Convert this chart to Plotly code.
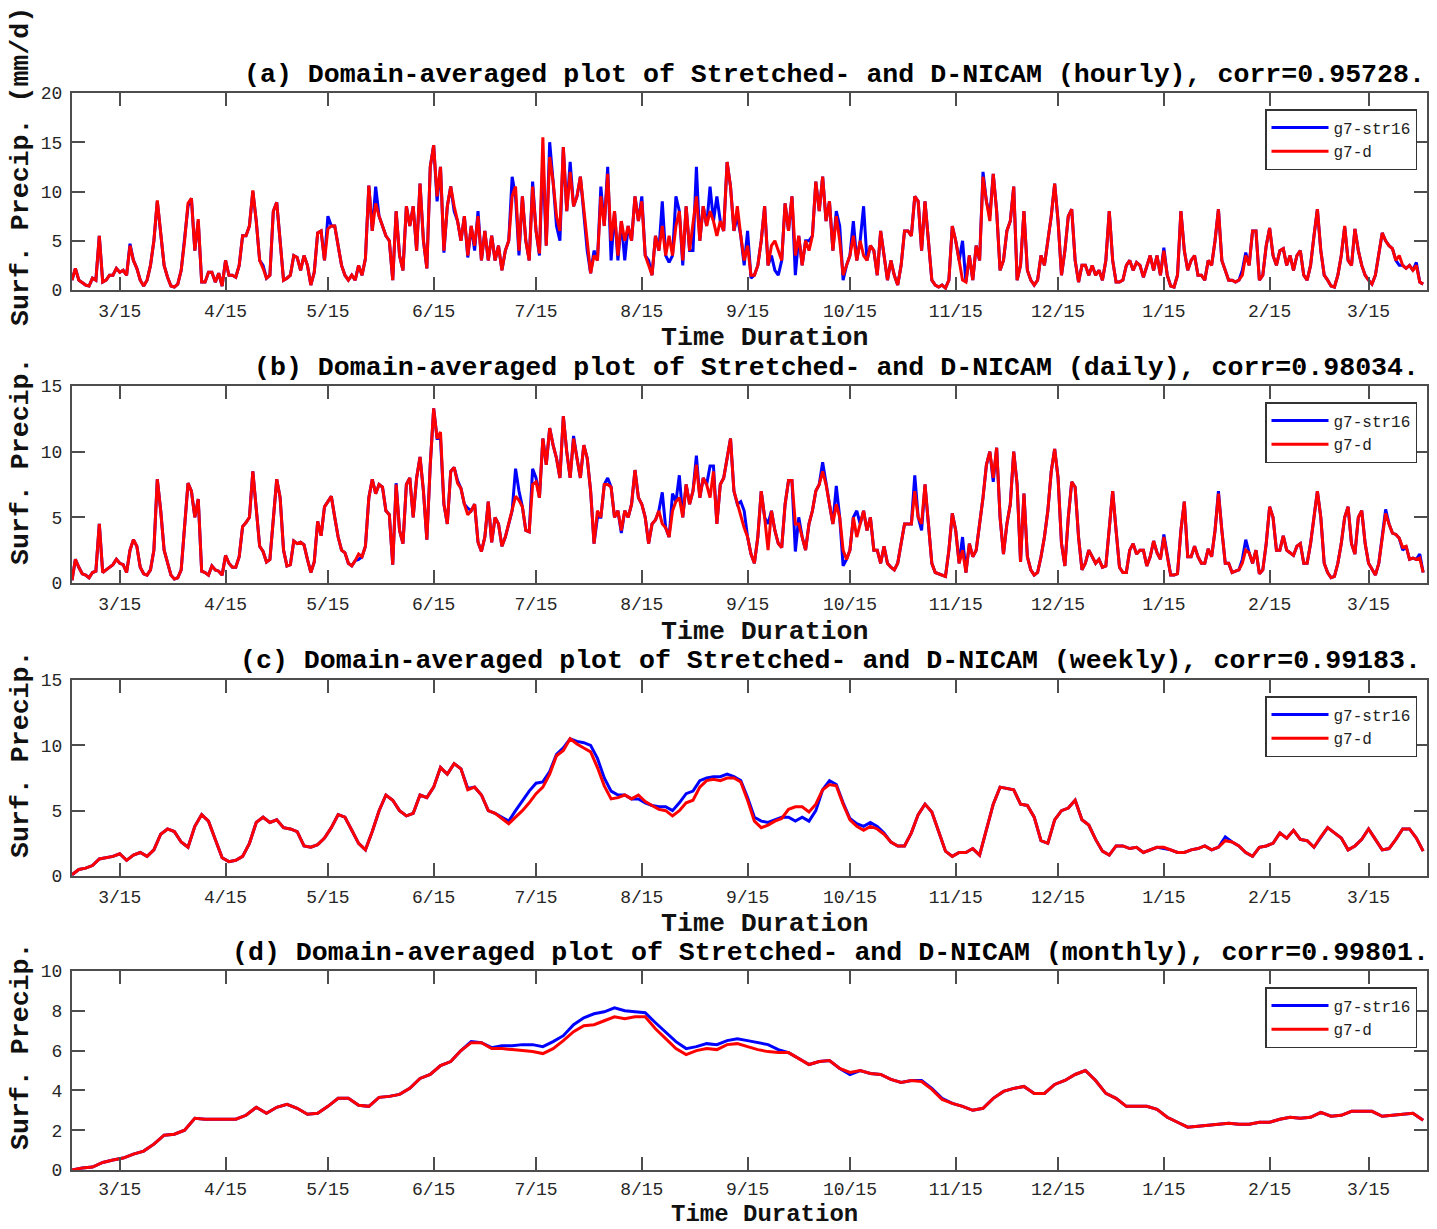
import numpy as np
import pandas as pd
import plotly.graph_objects as go

# ---------------- data ----------------
START = "2015-03-01"
X_END = "2016-04-01 03:00"

tick_dates = ["2015-03-15", "2015-04-15", "2015-05-15", "2015-06-15", "2015-07-15",
              "2015-08-15", "2015-09-15", "2015-10-15", "2015-11-15", "2015-12-15",
              "2016-01-15", "2016-02-15", "2016-03-15"]
tick_labels = ["3/15", "4/15", "5/15", "6/15", "7/15", "8/15", "9/15", "10/15",
               "11/15", "12/15", "1/15", "2/15", "3/15"]

series_names = ["g7-str16", "g7-d"]

panel_titles = [
    "(a) Domain-averaged plot of Stretched- and D-NICAM (hourly), corr=0.95728.",
    "(b) Domain-averaged plot of Stretched- and D-NICAM (daily), corr=0.98034.",
    "(c) Domain-averaged plot of Stretched- and D-NICAM (weekly), corr=0.99183.",
    "(d) Domain-averaged plot of Stretched- and D-NICAM (monthly), corr=0.99801.",
]
y_titles = ["Surf. Precip. (mm/d)", "Surf. Precip.", "Surf. Precip.", "Surf. Precip."]
x_title = "Time Duration"

# (a) hourly series, sampled once per day (step 1 day)
hourly_d = [
    1.0, 2.2, 1.0, 0.7, 0.5, 0.4, 1.2, 1.0, 5.5, 0.8, 1.0, 1.5, 1.5, 2.2, 1.8, 2.0, 1.5, 4.5, 3.0, 2.2, 1.0, 0.4, 1.0, 2.5, 5.0, 9.1, 6.0, 2.5, 1.3, 0.4, 0.3,
    0.6, 2.0, 5.0, 8.8, 9.3, 4.0, 7.2, 0.8, 0.8, 1.8, 1.8, 0.8, 1.7, 0.4, 3.0, 1.5, 1.5, 1.3, 2.5, 5.5, 5.5, 6.5, 10.1, 7.0, 3.0, 2.2, 1.2, 1.5, 8.0, 8.9,
    5.0, 1.0, 1.2, 1.5, 3.5, 3.3, 2.0, 3.5, 2.5, 0.5, 1.8, 5.8, 6.0, 3.0, 6.2, 6.5, 6.5, 4.5, 2.5, 1.5, 1.0, 1.5, 1.0, 2.5, 1.5, 3.2, 10.6, 6.0, 8.8, 7.5, 6.5,
    5.5, 5.0, 1.0, 8.0, 3.5, 2.0, 8.5, 6.5, 8.5, 4.0, 10.8, 5.0, 2.2, 12.5, 14.7, 9.5, 12.5, 4.0, 8.5, 10.5, 8.5, 7.0, 5.0, 7.5, 3.5, 6.5, 4.5, 7.5, 3.0, 6.0,
    3.0, 5.5, 3.0, 4.5, 2.0, 4.0, 5.0, 9.5, 10.5, 4.0, 9.5, 5.0, 3.0, 10.5, 6.0, 3.7, 15.5, 4.5, 13.5, 11.0, 7.5, 6.0, 14.5, 8.0, 12.0, 8.5, 9.5, 11.5, 8.0, 5.0, 1.7,
    3.5, 3.0, 9.5, 6.5, 11.8, 5.0, 8.0, 3.5, 7.0, 5.0, 6.5, 5.0, 9.5, 7.0, 9.0, 3.5, 2.5, 1.5, 5.5, 4.0, 6.5, 3.5, 5.5, 3.5, 6.5, 8.0, 3.0, 8.5, 4.0, 6.5, 9.5,
    5.0, 8.5, 6.5, 8.0, 7.0, 5.5, 7.0, 6.0, 13.0, 10.5, 6.0, 8.5, 5.5, 3.0, 4.5, 1.5, 1.5, 2.5, 5.0, 8.5, 2.5, 4.5, 5.0, 4.0, 3.0, 8.8, 6.0, 9.5, 3.5, 5.5,
    2.5, 5.0, 4.0, 5.5, 11.0, 8.0, 11.5, 7.0, 9.0, 4.0, 7.5, 5.0, 1.5, 2.5, 3.5, 5.5, 3.0, 5.0, 3.5, 3.0, 4.5, 4.0, 1.5, 6.0, 3.5, 1.0, 3.0, 1.5, 0.5, 2.5, 6.0,
    6.0, 5.5, 9.5, 9.0, 4.0, 9.0, 5.0, 1.0, 0.5, 0.3, 0.5, 0.2, 1.0, 6.5, 5.0, 3.0, 1.0, 0.8, 3.5, 1.0, 4.5, 3.0, 11.5, 9.0, 7.0, 11.8, 8.0, 2.0, 3.0, 6.0,
    7.0, 10.5, 1.0, 2.5, 8.0, 2.0, 1.0, 0.5, 1.0, 3.5, 2.5, 5.0, 7.5, 10.8, 7.0, 1.5, 4.0, 7.5, 8.2, 3.0, 0.8, 2.5, 2.5, 1.5, 2.5, 1.5, 2.0, 1.0, 3.0, 8.0, 3.0,
    0.8, 0.8, 1.0, 2.5, 3.0, 2.0, 2.8, 2.5, 1.3, 2.5, 3.5, 2.0, 3.5, 1.5, 4.0, 1.5, 0.4, 0.3, 1.5, 8.0, 4.0, 2.0, 3.0, 3.5, 1.5, 1.5, 1.0, 3.0, 2.5, 5.0, 8.2,
    3.0, 2.0, 1.0, 1.0, 0.8, 1.0, 1.5, 3.5, 2.5, 6.0, 6.0, 1.0, 1.5, 4.5, 6.3, 3.5, 2.5, 4.0, 4.2, 2.5, 3.5, 2.0, 3.5, 4.0, 1.5, 1.0, 2.5, 5.5, 8.2,
    4.0, 1.5, 1.0, 0.4, 0.3, 1.5, 3.5, 6.5, 3.0, 2.5, 6.2, 4.0, 2.5, 1.5, 1.0, 0.6, 1.5, 3.5, 5.8, 5.0, 4.5, 4.2, 3.0, 3.5, 2.5, 2.2, 2.5, 2.0, 2.5, 0.8, 0.6,
]
hourly_str16 = [
    1.0, 2.2, 1.0, 0.7, 0.5, 0.4, 1.2, 1.0, 5.5, 0.8, 1.0, 1.5, 1.5, 2.2, 1.8, 2.0, 1.5, 4.7, 3.0, 2.2, 1.0, 0.4, 1.0, 2.5, 5.0, 9.0, 6.0, 2.5, 1.3, 0.4, 0.3,
    0.6, 2.0, 5.0, 8.5, 9.3, 4.0, 7.0, 0.8, 0.8, 1.8, 1.8, 0.8, 1.7, 0.4, 3.0, 1.5, 1.5, 1.3, 2.5, 5.5, 5.5, 6.5, 10.0, 7.0, 3.0, 2.5, 1.2, 1.5, 8.0, 8.9,
    5.0, 1.0, 1.2, 1.5, 3.5, 3.3, 2.0, 3.5, 2.5, 0.5, 1.8, 5.8, 6.0, 3.0, 7.5, 6.5, 6.5, 4.5, 2.5, 1.5, 1.0, 1.5, 1.0, 2.5, 1.5, 3.2, 10.6, 6.0, 10.5, 7.5, 6.5,
    5.5, 5.0, 1.0, 8.0, 3.5, 2.0, 8.5, 6.5, 8.5, 4.0, 10.8, 5.0, 2.2, 12.5, 14.7, 9.0, 12.5, 3.8, 8.5, 10.5, 8.0, 7.0, 5.0, 7.5, 3.3, 6.5, 4.0, 8.0, 3.0, 6.0,
    3.0, 5.5, 3.0, 4.5, 2.0, 4.0, 5.0, 11.5, 9.5, 3.5, 9.5, 5.0, 3.0, 11.0, 6.0, 3.5, 13.5, 4.5, 15.0, 11.0, 6.5, 5.0, 14.5, 8.0, 13.0, 8.5, 9.5, 11.5, 8.0, 4.0, 1.7,
    4.0, 3.0, 10.5, 6.5, 12.5, 3.0, 8.0, 3.0, 7.0, 3.0, 6.5, 5.0, 9.5, 7.0, 9.5, 3.5, 3.0, 1.5, 5.5, 4.0, 9.0, 3.5, 2.8, 3.5, 9.5, 8.0, 2.5, 8.5, 4.0, 4.0, 12.5,
    5.0, 8.5, 6.5, 10.5, 7.0, 9.5, 7.0, 6.0, 13.0, 10.5, 6.0, 7.5, 5.5, 2.5, 6.0, 1.2, 1.5, 2.5, 5.0, 8.5, 2.5, 3.5, 2.0, 1.5, 3.0, 8.8, 6.0, 9.5, 1.5, 5.5,
    2.5, 5.0, 5.0, 5.5, 11.0, 8.0, 11.5, 7.0, 9.0, 4.0, 8.0, 6.5, 1.0, 2.5, 3.5, 7.0, 3.0, 5.0, 8.5, 3.0, 4.5, 4.0, 1.5, 6.0, 3.5, 1.0, 3.0, 1.5, 0.5, 2.5, 6.0,
    6.0, 5.5, 9.5, 9.0, 4.0, 9.0, 5.0, 1.0, 0.5, 0.3, 0.5, 0.2, 1.0, 6.5, 5.0, 3.0, 5.0, 0.8, 3.5, 1.0, 4.5, 3.0, 12.0, 9.0, 7.5, 11.8, 8.0, 2.0, 3.0, 6.0,
    7.0, 10.5, 1.0, 2.5, 8.0, 2.0, 1.0, 0.5, 1.0, 3.5, 2.5, 5.0, 7.5, 10.8, 7.0, 1.5, 4.0, 7.5, 8.2, 3.0, 0.8, 2.5, 2.5, 1.5, 2.5, 1.5, 2.0, 1.0, 3.0, 8.0, 3.0,
    0.8, 0.8, 1.0, 2.5, 3.0, 2.0, 2.8, 2.5, 1.3, 2.5, 3.5, 2.0, 3.5, 1.5, 4.3, 1.5, 0.4, 0.3, 1.5, 8.0, 4.0, 2.0, 3.0, 3.5, 1.5, 1.5, 1.0, 3.0, 2.5, 5.0, 8.2,
    3.0, 2.0, 1.0, 1.0, 0.8, 1.0, 2.0, 3.8, 2.5, 6.0, 6.0, 1.0, 1.5, 4.5, 6.3, 3.5, 2.5, 4.0, 4.2, 2.5, 3.5, 2.0, 3.5, 4.0, 1.5, 1.0, 2.5, 5.5, 8.2,
    4.0, 1.5, 1.0, 0.4, 0.3, 1.5, 3.5, 6.4, 3.0, 2.5, 6.2, 4.0, 2.5, 1.5, 1.0, 0.6, 1.5, 3.5, 5.8, 5.0, 4.5, 4.2, 3.0, 2.5, 2.5, 2.2, 2.5, 2.0, 2.8, 0.8, 0.6,
]

# (b) daily means (step 1 day)
daily_d = [
    0.2, 1.8, 1.2, 0.7, 0.6, 0.4, 0.8, 0.9, 4.5, 0.8, 1.0, 1.2, 1.4, 1.8, 1.5, 1.4, 0.8, 2.5, 3.3, 2.8, 1.2, 0.7, 0.6, 1.0, 2.5, 7.9, 5.5, 2.5, 1.5, 0.6, 0.3,
    0.4, 1.0, 4.0, 7.6, 7.0, 5.0, 6.4, 0.9, 0.8, 0.6, 1.3, 1.0, 0.9, 0.6, 2.1, 1.5, 1.2, 1.2, 2.0, 4.3, 4.6, 5.0, 8.5, 5.5, 2.8, 2.4, 1.6, 1.8, 5.0, 7.9,
    6.5, 2.5, 1.3, 1.4, 3.2, 3.0, 3.1, 2.9, 1.8, 0.8, 1.6, 4.7, 3.6, 5.8, 6.2, 6.6, 5.0, 3.5, 2.5, 2.3, 1.5, 1.3, 1.7, 2.2, 2.0, 2.8, 6.5, 7.9, 6.8, 7.5, 7.3,
    5.5, 5.2, 1.4, 7.5, 4.0, 3.0, 7.5, 8.0, 5.0, 8.0, 9.6, 7.0, 3.3, 9.0, 13.3, 11.0, 11.5, 6.0, 4.5, 8.5, 8.8, 7.6, 7.2, 6.0, 5.2, 5.5, 6.0, 3.1, 2.4, 3.5,
    6.2, 3.1, 5.0, 4.5, 2.8, 3.5, 4.5, 5.5, 6.6, 6.3, 5.8, 4.0, 3.9, 7.5, 7.7, 6.5, 11.0, 9.0, 11.8, 10.5, 9.5, 8.0, 12.7, 10.0, 8.0, 11.0, 9.5, 8.0, 10.5, 9.5, 7.0,
    3.0, 5.5, 5.0, 7.5, 7.5, 7.3, 5.0, 5.5, 4.0, 5.5, 5.0, 6.0, 8.6, 6.5, 6.0, 5.0, 3.0, 4.5, 4.8, 5.5, 4.5, 4.2, 3.5, 5.5, 6.2, 6.5, 5.0, 7.5, 6.0, 7.0, 9.0,
    6.5, 8.0, 7.5, 6.5, 8.5, 4.5, 7.5, 8.0, 9.5, 11.0, 7.0, 6.0, 5.0, 4.2, 3.5, 2.2, 1.5, 3.5, 7.0, 5.0, 2.5, 5.5, 4.0, 3.0, 2.7, 6.0, 7.8, 7.8, 4.5, 4.5,
    3.5, 2.5, 4.5, 5.5, 7.0, 7.5, 8.5, 7.5, 6.0, 4.5, 6.0, 5.0, 2.5, 1.8, 2.5, 5.0, 3.5, 4.5, 5.5, 4.0, 5.0, 2.5, 2.5, 1.5, 2.8, 1.5, 1.2, 1.0, 1.5, 3.0, 4.5,
    4.5, 4.5, 7.0, 5.0, 4.5, 7.5, 4.5, 1.5, 0.8, 0.7, 0.6, 0.5, 2.5, 5.3, 4.0, 1.5, 2.5, 0.8, 3.0, 2.0, 2.5, 4.5, 6.5, 9.0, 10.0, 8.0, 10.3, 5.0, 2.2, 4.5,
    6.0, 10.0, 7.5, 1.6, 6.8, 2.0, 1.0, 0.6, 0.8, 2.0, 3.5, 5.5, 8.5, 10.2, 8.0, 3.0, 1.3, 5.0, 7.7, 7.3, 3.5, 1.0, 1.5, 2.5, 2.0, 1.5, 1.8, 1.2, 1.3, 4.0, 7.0,
    4.0, 1.2, 0.8, 0.8, 2.5, 3.0, 2.2, 2.5, 2.5, 1.3, 2.0, 3.2, 2.3, 1.8, 3.5, 2.0, 0.6, 0.6, 0.7, 4.0, 6.2, 2.0, 2.0, 2.8, 2.0, 1.5, 1.5, 2.6, 2.0, 4.0, 6.8,
    4.0, 1.5, 1.5, 0.8, 0.9, 1.0, 1.5, 2.5, 2.3, 1.5, 2.5, 0.7, 1.0, 3.0, 5.8, 5.0, 2.5, 2.5, 3.6, 2.5, 2.3, 2.1, 2.8, 3.0, 1.5, 1.5, 3.0, 5.0, 7.0,
    5.0, 1.5, 0.8, 0.4, 0.5, 1.5, 3.0, 5.0, 5.8, 3.0, 2.2, 5.0, 5.5, 3.0, 1.5, 1.0, 0.6, 1.5, 3.5, 5.3, 4.5, 3.8, 3.7, 3.4, 2.7, 2.8, 1.8, 1.9, 1.8, 1.9, 0.8,
]
daily_str16 = [
    0.2, 1.8, 1.2, 0.7, 0.6, 0.4, 0.8, 0.9, 4.5, 0.8, 1.0, 1.2, 1.4, 1.8, 1.5, 1.4, 0.8, 2.5, 3.3, 2.8, 1.2, 0.7, 0.6, 1.0, 2.5, 7.9, 5.5, 2.5, 1.5, 0.6, 0.3,
    0.4, 1.0, 4.0, 7.6, 7.0, 5.0, 6.4, 0.9, 0.8, 0.6, 1.3, 1.0, 0.9, 0.6, 2.1, 1.5, 1.2, 1.2, 2.0, 4.3, 4.6, 5.0, 8.5, 5.5, 2.8, 2.4, 1.6, 1.8, 5.0, 7.9,
    6.5, 2.5, 1.3, 1.4, 3.2, 3.0, 3.1, 2.9, 1.8, 0.8, 1.6, 4.7, 3.6, 5.8, 6.2, 6.6, 5.0, 3.5, 2.5, 2.3, 1.5, 1.3, 1.7, 1.8, 2.0, 2.8, 6.5, 7.9, 6.8, 7.5, 7.3,
    5.5, 5.2, 1.4, 7.6, 4.0, 3.0, 7.5, 8.0, 5.0, 8.0, 9.6, 7.0, 3.3, 9.0, 13.3, 11.0, 11.0, 6.0, 4.5, 8.5, 8.8, 7.8, 7.2, 6.0, 5.7, 5.5, 6.0, 3.1, 2.4, 3.5,
    6.2, 3.1, 5.0, 4.5, 2.8, 3.5, 4.5, 5.5, 8.7, 7.0, 5.8, 4.0, 3.9, 8.7, 8.0, 6.5, 11.0, 9.0, 11.8, 10.5, 9.5, 8.0, 12.7, 10.0, 8.0, 11.2, 9.5, 8.0, 10.5, 9.5, 7.0,
    3.0, 5.0, 5.0, 7.5, 8.0, 7.3, 5.0, 5.5, 3.8, 5.5, 5.0, 6.0, 8.6, 6.5, 6.0, 5.0, 3.0, 4.5, 4.8, 5.5, 6.9, 4.2, 3.5, 6.8, 6.2, 8.2, 5.0, 7.5, 6.0, 7.0, 9.7,
    6.5, 8.0, 7.5, 8.9, 8.9, 4.5, 7.5, 8.0, 9.5, 11.0, 7.0, 6.0, 6.2, 5.5, 3.5, 2.2, 1.5, 3.5, 7.0, 5.0, 4.5, 5.5, 4.0, 3.0, 2.7, 6.0, 7.8, 7.8, 2.4, 5.0,
    3.5, 2.5, 4.5, 5.5, 7.0, 7.5, 9.2, 7.5, 6.0, 4.5, 7.4, 5.0, 1.3, 1.8, 2.5, 5.0, 5.5, 4.5, 5.5, 4.0, 5.0, 2.5, 2.5, 1.5, 2.8, 1.5, 1.2, 1.0, 1.5, 3.0, 4.5,
    4.5, 4.5, 8.2, 5.0, 4.0, 7.5, 4.5, 1.5, 0.8, 0.7, 0.6, 0.5, 2.5, 5.3, 4.0, 1.5, 3.5, 0.8, 3.0, 2.0, 2.5, 4.5, 6.5, 9.0, 10.0, 7.7, 10.3, 5.0, 2.2, 4.5,
    6.0, 10.0, 7.5, 1.6, 6.8, 2.0, 1.0, 0.6, 0.8, 2.0, 3.5, 5.5, 8.5, 10.2, 8.0, 3.0, 1.3, 5.0, 7.7, 7.3, 3.5, 1.0, 1.5, 2.5, 2.0, 1.5, 1.8, 1.2, 1.3, 4.0, 7.0,
    4.0, 1.2, 0.8, 0.8, 2.5, 3.0, 2.2, 2.5, 2.5, 1.3, 2.0, 3.2, 2.3, 1.8, 3.7, 2.0, 0.6, 0.6, 0.7, 4.0, 6.2, 2.0, 2.0, 2.8, 2.0, 1.5, 1.5, 2.6, 2.0, 4.0, 7.0,
    4.0, 1.5, 1.5, 0.8, 0.9, 1.0, 1.8, 3.3, 2.3, 1.5, 2.5, 0.7, 1.0, 3.0, 5.8, 5.0, 2.5, 2.5, 3.6, 2.5, 2.3, 2.1, 2.8, 3.0, 1.5, 1.5, 3.0, 5.0, 7.0,
    5.0, 1.5, 0.8, 0.4, 0.5, 1.5, 3.0, 5.0, 5.8, 3.0, 2.2, 5.0, 5.5, 3.0, 1.5, 1.0, 0.6, 1.5, 3.5, 5.6, 4.5, 3.8, 3.7, 3.4, 2.5, 2.8, 1.8, 1.9, 1.8, 2.2, 0.8,
]

# (c) weekly running means, sampled every 2 days
weekly_d = [
    0.1, 0.5, 0.6, 0.8, 1.3, 1.4, 1.5, 1.7, 1.2, 1.6,
    1.8, 1.5, 2.0, 3.2, 3.6, 3.4, 2.6, 2.2, 3.8, 4.7,
    4.2, 2.8, 1.4, 1.1, 1.2, 1.5, 2.5, 4.1, 4.5, 4.1,
    4.3, 3.7, 3.6, 3.4, 2.3, 2.2, 2.4, 2.9, 3.7, 4.7,
    4.5, 3.5, 2.5, 2.0, 3.4, 5.0, 6.2, 5.8, 5.0, 4.6,
    4.8, 6.2, 6.0, 6.8, 8.3, 7.8, 8.6, 8.2, 6.6, 6.8,
    6.2, 5.0, 4.8, 4.4, 4.0, 4.5, 5.0, 5.6, 6.3, 6.8,
    7.8, 9.2, 9.6, 10.5, 10.1, 9.8, 9.5, 8.3, 6.9, 5.9,
    6.0, 6.2, 5.9, 6.2, 5.7, 5.4, 5.1, 5.0, 4.6, 5.0,
    5.6, 5.8, 6.8, 7.3, 7.4, 7.3, 7.5, 7.5, 7.2, 5.8,
    4.2, 3.7, 3.9, 4.2, 4.4, 5.1, 5.3, 5.3, 4.9, 5.5,
    6.6, 7.0, 6.9, 5.5, 4.3, 3.8, 3.5, 3.8, 3.6, 3.2,
    2.6, 2.3, 2.3, 3.3, 4.7, 5.5, 4.9, 3.4, 1.9, 1.5,
    1.8, 1.8, 2.1, 1.6, 3.5, 5.5, 6.8, 6.7, 6.6, 5.5,
    5.4, 4.5, 2.7, 2.5, 4.3, 5.0, 5.2, 5.8, 4.3, 3.9,
    2.8, 1.9, 1.6, 2.3, 2.3, 2.1, 2.2, 1.8, 2.0, 2.2,
    2.2, 2.0, 1.8, 1.8, 2.0, 2.1, 2.3, 2.0, 2.2, 2.7,
    2.6, 2.3, 1.8, 1.5, 2.2, 2.3, 2.5, 3.3, 2.9, 3.5,
    2.8, 2.7, 2.2, 3.0, 3.7, 3.3, 2.9, 2.0, 2.3, 2.8,
    3.6, 2.8, 2.0, 2.1, 2.8, 3.6, 3.6, 2.9, 1.9,
]
weekly_str16 = [
    0.1, 0.5, 0.6, 0.8, 1.3, 1.4, 1.5, 1.7, 1.2, 1.6,
    1.8, 1.5, 2.0, 3.2, 3.6, 3.4, 2.6, 2.2, 3.8, 4.7,
    4.2, 2.8, 1.4, 1.1, 1.2, 1.5, 2.5, 4.1, 4.5, 4.1,
    4.3, 3.7, 3.6, 3.4, 2.3, 2.2, 2.4, 2.9, 3.7, 4.7,
    4.5, 3.5, 2.5, 2.0, 3.4, 5.0, 6.2, 5.8, 5.0, 4.6,
    4.8, 6.2, 6.0, 6.8, 8.3, 7.8, 8.6, 8.2, 6.7, 6.8,
    6.2, 5.0, 4.8, 4.5, 4.2, 5.0, 5.8, 6.5, 7.1, 7.2,
    8.0, 9.3, 9.8, 10.5, 10.3, 10.2, 10.0, 9.0, 7.5, 6.5,
    6.2, 6.2, 5.9, 5.9, 5.6, 5.4, 5.3, 5.3, 5.0, 5.6,
    6.3, 6.5, 7.3, 7.5, 7.6, 7.6, 7.8, 7.6, 7.3, 6.0,
    4.5, 4.2, 4.1, 4.3, 4.5, 4.5, 4.2, 4.5, 4.2, 5.0,
    6.6, 7.3, 7.0, 5.6, 4.4, 4.0, 3.8, 4.1, 3.8, 3.3,
    2.6, 2.3, 2.3, 3.3, 4.7, 5.5, 4.9, 3.4, 1.9, 1.5,
    1.8, 1.8, 2.1, 1.6, 3.5, 5.5, 6.8, 6.7, 6.6, 5.5,
    5.4, 4.5, 2.7, 2.5, 4.3, 5.0, 5.2, 5.8, 4.3, 3.9,
    2.8, 1.9, 1.6, 2.3, 2.3, 2.1, 2.2, 1.8, 2.0, 2.2,
    2.1, 2.0, 1.8, 1.8, 2.0, 2.1, 2.3, 2.0, 2.2, 3.0,
    2.6, 2.3, 1.8, 1.5, 2.2, 2.3, 2.5, 3.3, 2.9, 3.5,
    2.8, 2.7, 2.2, 3.0, 3.7, 3.3, 2.9, 2.0, 2.3, 2.8,
    3.6, 2.8, 2.0, 2.1, 2.8, 3.6, 3.6, 2.9, 1.9,
]

# (d) monthly running means, sampled every 3 days
monthly_d = [
    0.0, 0.1, 0.15, 0.38, 0.5, 0.6, 0.8, 0.95, 1.3, 1.75,
    1.8, 2.0, 2.6, 2.55, 2.55, 2.55, 2.55, 2.75, 3.15, 2.85,
    3.15, 3.3, 3.1, 2.8, 2.85, 3.2, 3.6, 3.6, 3.25, 3.2,
    3.65, 3.7, 3.8, 4.1, 4.6, 4.8, 5.25, 5.45, 6.0, 6.4,
    6.4, 6.1, 6.1, 6.05, 6.0, 5.95, 5.85, 6.1, 6.5, 6.95,
    7.25, 7.3, 7.5, 7.7, 7.6, 7.7, 7.7, 7.1, 6.6, 6.1,
    5.8, 6.0, 6.1, 6.05, 6.3, 6.35, 6.2, 6.05, 5.95, 5.9,
    5.9, 5.6, 5.3, 5.45, 5.5, 5.1, 4.9, 5.0, 4.85, 4.8,
    4.55, 4.4, 4.5, 4.45, 4.05, 3.55, 3.35, 3.2, 3.0, 3.1,
    3.6, 3.95, 4.1, 4.2, 3.85, 3.85, 4.3, 4.5, 4.8, 5.0,
    4.5, 3.85, 3.6, 3.2, 3.2, 3.2, 3.05, 2.65, 2.4, 2.15,
    2.2, 2.25, 2.3, 2.35, 2.3, 2.3, 2.4, 2.4, 2.55, 2.65,
    2.6, 2.65, 2.9, 2.7, 2.75, 2.95, 2.95, 2.95, 2.7, 2.75,
    2.8, 2.85, 2.5,
]
monthly_str16 = [
    0.0, 0.1, 0.15, 0.38, 0.5, 0.6, 0.8, 0.95, 1.3, 1.75,
    1.8, 2.0, 2.6, 2.55, 2.55, 2.55, 2.55, 2.75, 3.15, 2.85,
    3.15, 3.3, 3.1, 2.8, 2.85, 3.2, 3.6, 3.6, 3.25, 3.2,
    3.65, 3.7, 3.8, 4.1, 4.6, 4.8, 5.25, 5.45, 6.0, 6.45,
    6.4, 6.15, 6.25, 6.25, 6.3, 6.3, 6.2, 6.45, 6.75, 7.3,
    7.65, 7.85, 7.95, 8.15, 8.0, 7.95, 7.9, 7.4, 6.9, 6.45,
    6.1, 6.2, 6.35, 6.3, 6.5, 6.6, 6.5, 6.4, 6.3, 6.05,
    5.9, 5.6, 5.3, 5.45, 5.5, 5.1, 4.8, 5.0, 4.85, 4.8,
    4.55, 4.4, 4.5, 4.5, 4.1, 3.6, 3.35, 3.2, 3.0, 3.1,
    3.6, 3.95, 4.1, 4.2, 3.85, 3.85, 4.3, 4.5, 4.8, 5.0,
    4.5, 3.85, 3.6, 3.2, 3.2, 3.2, 3.05, 2.65, 2.4, 2.15,
    2.2, 2.25, 2.3, 2.35, 2.3, 2.3, 2.4, 2.4, 2.55, 2.65,
    2.6, 2.65, 2.9, 2.7, 2.75, 2.95, 2.95, 2.95, 2.7, 2.75,
    2.8, 2.85, 2.5,
]

panel_data = [
    (1, hourly_str16, hourly_d),
    (1, daily_str16, daily_d),
    (2, weekly_str16, weekly_d),
    (3, monthly_str16, monthly_d),
]
y_max = [20, 15, 15, 10]
y_step = [5, 5, 5, 2]

# ---------------- layout geometry (pixels) ----------------
W, H = 1437, 1229
MT, MB = 10, 10
PL, PR = 72, 1427
plot_top = [93, 386, 680, 971]
plot_bot = [290, 583, 876, 1170]
title_y = [75, 368, 661, 953]
title_cx = [834, 836, 830, 830]
xtitle_y = [338, 632, 924, 1229]
xtitle_anchor = ["middle", "middle", "middle", "bottom"]
xtitle_size = [26.6, 26.6, 26.6, 24]
xtick_standoff = [3, 3, 3, 1]
ytitle_cy = [167, 462, 755, 1047]
legend_top = [109, 402, 696, 987]

FONT = "Liberation Mono, Courier New, monospace"
BLUE, RED = "#0000FF", "#FF0000"
AXC = "#4d4d4d"


def px(x):
    return (x - PL) / (PR - PL)


def py(y):
    return 1 - (y - MT) / (H - MT - MB)


fig = go.Figure()
start = pd.Timestamp(START)
for k, (step, s_blue, s_red) in enumerate(panel_data):
    sfx = "" if k == 0 else str(k + 1)
    leg = "legend" if k == 0 else "legend" + str(k + 1)
    for name, vals, col in ((series_names[0], s_blue, BLUE), (series_names[1], s_red, RED)):
        xs = start + pd.to_timedelta(np.arange(len(vals)) * step, unit="D")
        fig.add_trace(go.Scatter(
            x=xs, y=vals, mode="lines", name=name,
            line=dict(color=col, width=3),
            xaxis="x" + sfx, yaxis="y" + sfx, legend=leg, showlegend=True,
        ))

layout = dict(
    width=W, height=H,
    margin=dict(l=PL, r=W - PR, t=MT, b=MB, pad=0, autoexpand=False),
    paper_bgcolor="white", plot_bgcolor="white",
    font=dict(family=FONT, color="#222222"),
    annotations=[],
)
for k in range(4):
    sfx = "" if k == 0 else str(k + 1)
    layout["xaxis" + sfx] = dict(
        type="date", range=[START, X_END], domain=[0, 1],
        anchor="y" + sfx,
        tickmode="array", tickvals=tick_dates, ticktext=tick_labels,
        ticks="inside", ticklen=13, tickwidth=1.5, tickcolor=AXC,
        showline=True, linecolor=AXC, linewidth=2, mirror="ticks",
        showgrid=False, zeroline=False,
        tickfont=dict(family=FONT, size=18, color="#262626"),
        ticklabelstandoff=xtick_standoff[k],
    )
    layout["yaxis" + sfx] = dict(
        range=[0, y_max[k]], dtick=y_step[k], tick0=0,
        domain=[py(plot_bot[k]), py(plot_top[k])],
        anchor="x" + sfx,
        ticks="inside", ticklen=13, tickwidth=1.5, tickcolor=AXC,
        showline=True, linecolor=AXC, linewidth=2, mirror="ticks",
        showgrid=False, zeroline=False,
        tickfont=dict(family=FONT, size=18, color="#262626"),
        ticklabelstandoff=4,
    )
    leg = "legend" if k == 0 else "legend" + str(k + 1)
    layout[leg] = dict(
        x=px(1265), y=py(legend_top[k]), xanchor="left", yanchor="top",
        xref="paper", yref="paper",
        bgcolor="white", bordercolor="#333333", borderwidth=1.5,
        font=dict(family=FONT, size=16, color="#222222"),
        itemwidth=57, tracegroupgap=0,
    )
    layout["annotations"] += [
        dict(text="<b>" + panel_titles[k] + "</b>", x=px(title_cx[k]), y=py(title_y[k]),
             xref="paper", yref="paper", xanchor="center", yanchor="middle",
             showarrow=False, font=dict(family=FONT, size=26.6, color="black")),
        dict(text="<b>" + x_title + "</b>", x=px(765), y=py(xtitle_y[k]),
             xref="paper", yref="paper", xanchor="center", yanchor=xtitle_anchor[k],
             showarrow=False, borderpad=0,
             font=dict(family=FONT, size=xtitle_size[k], color="#111111")),
        dict(text="<b>" + y_titles[k] + "</b>", x=px(21), y=py(ytitle_cy[k]),
             xref="paper", yref="paper", xanchor="center", yanchor="middle",
             textangle=-90, showarrow=False,
             font=dict(family=FONT, size=26.6, color="#111111")),
    ]

fig.update_layout(**layout)
fig.write_html("out.html", config={"displayModeBar": False},
               post_script="document.body.style.margin='0';document.body.style.overflow='hidden';")
